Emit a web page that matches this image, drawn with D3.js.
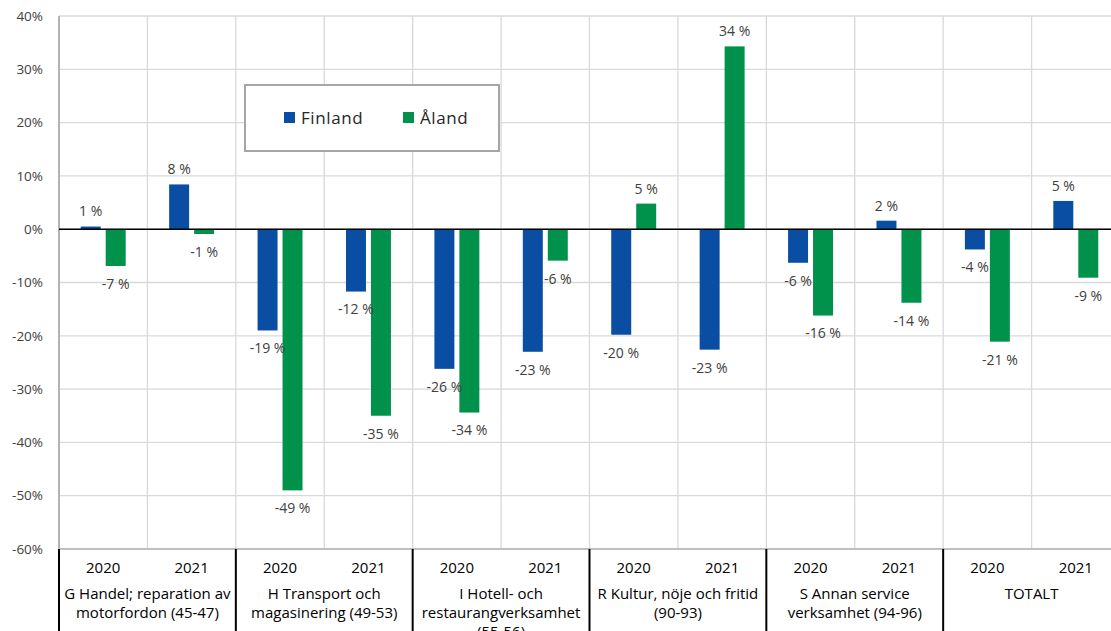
<!DOCTYPE html>
<html>
<head>
<meta charset="utf-8">
<script src="https://cdn.jsdelivr.net/npm/d3@7"></script>
<style>
  body { margin: 0; background: #fff; }
  svg text { font-family: "Open Sans", "DejaVu Sans", sans-serif; fill: #404040; }
</style>
</head>
<body>
<svg id="chart" width="1111" height="631"></svg>
<script>
var groups = ["G Handel; reparation av|motorfordon (45-47)",
  "H Transport och|magasinering (49-53)",
  "I Hotell- och|restaurangverksamhet|(55-56)",
  "R Kultur, nöje och fritid|(90-93)",
  "S Annan service|verksamhet (94-96)",
  "TOTALT"];
var years = ["2020", "2021"];
var series = ["Finland", "Åland"];
var colors = ["#0a4ea3", "#00924a"];
// per group: 2020, 2021
var finland = [0.5, 8.4, -19.0, -11.7, -26.2, -23.0, -19.8, -22.6, -6.3, 1.6, -3.8, 5.3];
var aland = [-6.9, -0.9, -49.0, -35.0, -34.4, -5.9, 4.8, 34.3, -16.2, -13.8, -21.1, -9.1];
var yTicks = [40, 30, 20, 10, 0, -10, -20, -30, -40, -50, -60];

var svg = d3.select("#chart"),
  pLeft = 59, pRight = 1120, pTop = 16, pBottom = 549;

var keys = [];
groups.forEach(function (g, gi) {
  years.forEach(function (yr) { keys.push(gi + "_" + yr); });
});

var x0 = d3.scaleBand().domain(keys).range([pLeft, pRight]).padding(0);
var x1 = d3.scaleBand().domain(series).range([0, x0.bandwidth()])
  .paddingInner(0.2).paddingOuter(0.87);
var gx = d3.scaleBand().domain(groups).range([pLeft, pRight]);
var y = d3.scaleLinear().domain([-60, 40]).range([pBottom, pTop]);

// gridlines
svg.append("g").selectAll("line").data(yTicks).enter().append("line")
  .attr("x1", pLeft).attr("x2", pRight)
  .attr("y1", function (d) { return y(d); }).attr("y2", function (d) { return y(d); })
  .attr("stroke", "#d9d9d9").attr("stroke-width", 1.3);
svg.append("g").selectAll("line").data(keys.slice(1)).enter().append("line")
  .attr("x1", function (d) { return x0(d); }).attr("x2", function (d) { return x0(d); })
  .attr("y1", pTop).attr("y2", pBottom)
  .attr("stroke", "#d9d9d9").attr("stroke-width", 1.3);

// left axis line
svg.append("line").attr("x1", pLeft).attr("x2", pLeft).attr("y1", pTop).attr("y2", pBottom)
  .attr("stroke", "#b3b3b3").attr("stroke-width", 2);
svg.append("line").attr("x1", pLeft).attr("x2", pRight).attr("y1", pBottom).attr("y2", pBottom)
  .attr("stroke", "#b3b3b3").attr("stroke-width", 1.5);

// y ticks
svg.append("g").selectAll("text").data(yTicks).enter().append("text")
  .attr("x", 43).attr("y", function (d) { return y(d); })
  .attr("dy", "0.35em").attr("text-anchor", "end")
  .style("font-size", "13.5px")
  .text(function (d) { return d + "%"; });

// bars
var rows = keys.map(function (k, i) {
  return [{ key: k, s: "Finland", v: finland[i] }, { key: k, s: "Åland", v: aland[i] }];
});
var flat = [].concat.apply([], rows);
svg.append("g").selectAll("rect").data(flat).enter().append("rect")
  .attr("x", function (d) { return x0(d.key) + x1(d.s); })
  .attr("width", x1.bandwidth())
  .attr("y", function (d) { return y(Math.max(0, d.v)); })
  .attr("height", function (d) { return Math.abs(y(d.v) - y(0)); })
  .attr("fill", function (d) { return colors[series.indexOf(d.s)]; });

// zero line
svg.append("line").attr("x1", pLeft).attr("x2", pRight).attr("y1", y(0)).attr("y2", y(0))
  .attr("stroke", "#000").attr("stroke-width", 1.5);

// value labels
svg.append("g").selectAll("text").data(flat).enter().append("text")
  .attr("x", function (d) { return x0(d.key) + x1(d.s) + x1.bandwidth() / 2; })
  .attr("y", function (d) { return d.v >= 0 ? y(d.v) - 15 : y(d.v) + 18; })
  .attr("dy", "0.35em").attr("text-anchor", "middle")
  .style("font-size", "14px")
  .text(function (d) { return Math.round(d.v) + " %"; });

// category axis
svg.append("g").selectAll("text").data(keys).enter().append("text")
  .attr("x", function (d) { return x0(d) + x0.bandwidth() / 2; })
  .attr("y", 568).attr("dy", "0.35em").attr("text-anchor", "middle")
  .style("font-size", "15px").style("fill", "#000")
  .text(function (d) { return d.split("_")[1]; });

var gl = svg.append("g").selectAll("text").data(groups).enter().append("text")
  .attr("x", function (d) { return gx(d) + gx.bandwidth() / 2; })
  .attr("y", 594).attr("text-anchor", "middle")
  .style("font-size", "15px").style("fill", "#000");
gl.each(function (d) {
  var t = d3.select(this);
  d.split("|").forEach(function (line, i) {
    t.append("tspan").attr("x", t.attr("x")).attr("dy", i === 0 ? "0.35em" : "19px")
      .style("fill", "#000").text(line);
  });
});

svg.append("g").selectAll("line").data(groups).enter().append("line")
  .attr("x1", function (d) { return gx(d); }).attr("x2", function (d) { return gx(d); })
  .attr("y1", pBottom).attr("y2", 631)
  .attr("stroke", "#000").attr("stroke-width", 2);

// legend
var lg = svg.append("g").attr("transform", "translate(245,85)");
lg.append("rect").attr("width", 254).attr("height", 66)
  .attr("fill", "#fff").attr("stroke", "#a6a6a6").attr("stroke-width", 2);
series.forEach(function (s, i) {
  var xo = i === 0 ? 39 : 158;
  lg.append("rect").attr("x", xo).attr("y", 27).attr("width", 11).attr("height", 11)
    .attr("fill", colors[i]);
  lg.append("text").attr("x", xo + 17).attr("y", 33).attr("dy", "0.35em")
    .style("font-size", "17px").style("letter-spacing", "0.6px")
    .style("fill", "#262626").text(s);
});
</script>
</body>
</html>
